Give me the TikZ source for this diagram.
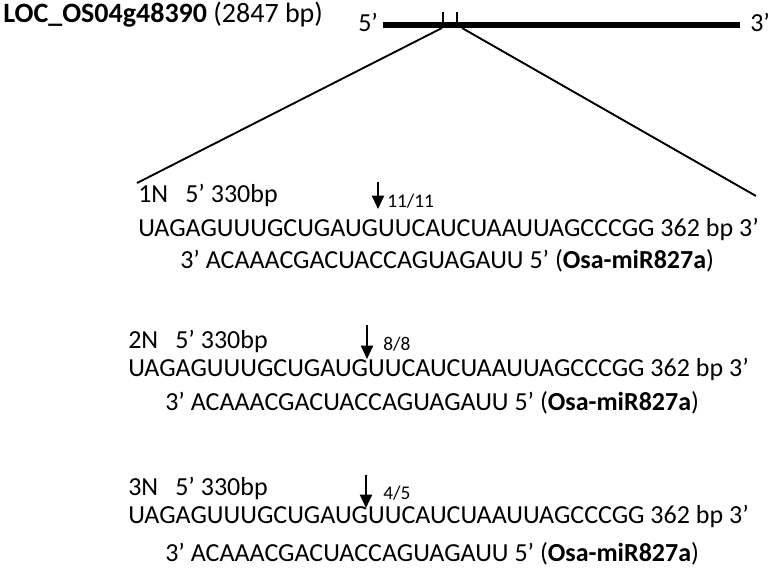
\documentclass[tikz,border=0pt]{standalone}
\usepackage{fontspec}
\setmainfont{Carlito}
\usetikzlibrary{arrows.meta}
\tikzset{
  txt/.style={anchor=base west, inner sep=0pt, font=\fontsize{19.5pt}{22pt}\selectfont},
  ttl/.style={anchor=base west, inner sep=0pt, font=\fontsize{21pt}{24pt}\selectfont},
  small/.style={anchor=base west, inner sep=0pt, font=\fontsize{14.5pt}{16pt}\selectfont},
  cut/.style={line width=1.5pt, -{Triangle[width=9pt,length=10pt]}},
  gene/.style={line width=3.8pt},
  tick/.style={line width=1.4pt},
  zoomline/.style={line width=1.4pt}
}
\begin{document}
\begin{tikzpicture}[x=0.75pt,y=-0.75pt]
\useasboundingbox (0,0) rectangle (773,569);
% title
\node[ttl] (title) at (3,22) {\textbf{LOC\_OS04g48390} (2847 bp)};
\node[txt] (five) at (358,31) {5’};
\node[txt] (three) at (750,31) {3’};
\coordinate (gs) at (383,25);
\coordinate (ge) at (740,25);
\draw[gene] (gs) -- (ge);
\coordinate (t1b) at (443,25); \coordinate (t1t) at (443,12);
\coordinate (t2b) at (457,25); \coordinate (t2t) at (457,12);
\draw[tick] (t1b) -- (t1t);
\draw[tick] (t2b) -- (t2t);
\coordinate (zl0) at (442,28); \coordinate (zl1) at (137,183);
\coordinate (zr0) at (462,28); \coordinate (zr1) at (756,196);
\draw[zoomline] (zl0) -- (zl1);
\draw[zoomline] (zr0) -- (zr1);
% block 1
\node[txt] (n1) at (138,202) {1N};
\node[txt] (p1) at (185,202) {5’ 330bp};
\node[txt] (s1) at (138,236) {UAGAGUUUGCUGAUGUUCAUCUAAUUAGCCCGG 362 bp 3’};
\node[txt] (m1) at (180,268) {3’ ACAAACGACUACCAGUAGAUU 5’ (\textbf{Osa-miR827a})};
\coordinate (a1s) at (378,182); \coordinate (a1e) at (378,209);
\draw[cut] (a1s) -- (a1e);
\node[small] (f1) at (387,207) {11/11};
% block 2
\node[txt] (n2) at (128,348) {2N};
\node[txt] (p2) at (175,348) {5’ 330bp};
\node[txt] (s2) at (128,376) {UAGAGUUUGCUGAUGUUCAUCUAAUUAGCCCGG 362 bp 3’};
\node[txt] (m2) at (165,410) {3’ ACAAACGACUACCAGUAGAUU 5’ (\textbf{Osa-miR827a})};
\coordinate (a2s) at (367,325); \coordinate (a2e) at (367,359);
\draw[cut] (a2s) -- (a2e);
\node[small] (f2) at (383,350) {8/8};
% block 3
\node[txt] (n3) at (128,495) {3N};
\node[txt] (p3) at (175,495) {5’ 330bp};
\node[txt] (s3) at (128,523) {UAGAGUUUGCUGAUGUUCAUCUAAUUAGCCCGG 362 bp 3’};
\node[txt] (m3) at (165,561) {3’ ACAAACGACUACCAGUAGAUU 5’ (\textbf{Osa-miR827a})};
\coordinate (a3s) at (366,475); \coordinate (a3e) at (366,508);
\draw[cut] (a3s) -- (a3e);
\node[small] (f3) at (383,499) {4/5};
\end{tikzpicture}
\end{document}
